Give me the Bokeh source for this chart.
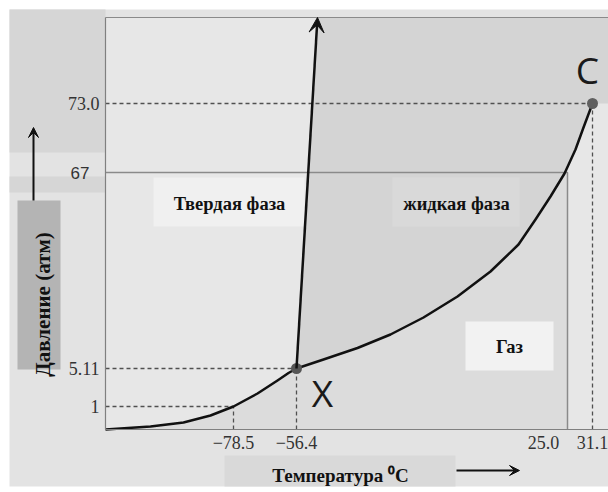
import math
from bokeh.plotting import figure
from bokeh.models import Range1d, FixedTicker, Arrow, VeeHead
from bokeh.core.properties import value
from bokeh.embed import file_html
from bokeh.resources import INLINE

# ---- data (schematic positions on a non-linear phase diagram) ----
temp_labels = ["\u221278.5", "\u221256.4", "25.0", "31.1"]
temp_pos = [128, 191, 462, 487]          # where each temperature sits on the axis
temp_label_pos = [128, 191, 438, 487]    # label placement (25.0 is nudged left in the original)
pres_labels = ["73.0", "67", "5.11", "1"]
pres_pos = [326, 257, 61, 23]

sub_x = [0, 45, 78, 105, 128, 152, 172, 183, 191]
sub_y = [0, 3, 7, 14, 23, 36, 49, 56.5, 61]
vap_x = [191, 218, 252, 285, 318, 352, 385, 413, 430, 445, 459, 470, 478, 484, 487]
vap_y = [61, 70, 81.5, 95, 112, 133, 158, 185, 210, 233, 256, 280, 302, 318, 326]
melt_x = [191, 212]
melt_y = [61, 412]

phase_names = ["Твердая фаза", "жидкая фаза", "Газ"]
point_names = ["X", "C"]
y_title = "Давление (атм)"
x_title = "Температура \u2070C"

SERIF = "Liberation Serif"
X_MAX, Y_MAX = 503, 412

p = figure(width=608, height=492, output_backend="svg", toolbar_location=None,
           x_range=Range1d(-105, X_MAX), y_range=Range1d(-63, 429),
           min_border=0, min_border_left=0, min_border_right=0,
           min_border_top=0, min_border_bottom=0)
p.background_fill_color = "white"
p.border_fill_color = "white"
p.outline_line_color = None
p.grid.visible = False

# outer grey panel and its bands
p.quad(left=[-96], right=[X_MAX], bottom=[-57], top=[420], fill_color="#e3e3e3", line_color=None)
p.quad(left=[-96, -96], right=[0, 0], bottom=[277, 237], top=[420, 253],
       fill_color="#d6d6d6", line_color=None)
# plot area
p.quad(left=[0], right=[X_MAX], bottom=[0], top=[Y_MAX], fill_color="#e7e7e7", line_color=None)

# regions
liq_x = melt_x + [X_MAX, X_MAX] + vap_x[::-1]
liq_y = melt_y + [Y_MAX, pres_pos[0]] + vap_y[::-1]
p.patch(liq_x, liq_y, fill_color="#d4d4d4", line_color=None)

gx = sub_x + [x for x in vap_x if x <= temp_pos[2]] + [temp_pos[2], temp_pos[2]]
gy = sub_y + [y for x, y in zip(vap_x, vap_y) if x <= temp_pos[2]] + [pres_pos[1], 0]
p.patch(gx, gy, fill_color="#dcdcdc", line_color=None)

# top frame line
p.line([0, X_MAX], [Y_MAX, Y_MAX], line_color="#8a8a8a", line_width=1.2)

# axes (drawn at the diagram's origin)
for ax in (p.xaxis[0], p.yaxis[0]):
    ax.fixed_location = 0
    ax.axis_line_color = "#808080"
    ax.axis_line_width = 1.2
    ax.major_tick_line_color = None
    ax.minor_tick_line_color = None
    ax.major_tick_out = 0
    ax.major_tick_in = 0
    ax.major_label_text_font = SERIF
    ax.major_label_text_font_size = "18px"
    ax.major_label_text_color = "#333333"
    ax.major_label_standoff = 6

p.xaxis.bounds = (0, X_MAX)
p.xaxis.ticker = FixedTicker(ticks=temp_label_pos)
p.xaxis.major_label_overrides = {t: l for t, l in zip(temp_label_pos, temp_labels)}

y_ticks = [pres_pos[0], pres_pos[2], pres_pos[3]]
y_labs = [pres_labels[0], pres_labels[2], pres_labels[3]]
p.yaxis.bounds = (0, Y_MAX)
p.yaxis.ticker = FixedTicker(ticks=y_ticks)
p.yaxis.major_label_overrides = {t: l for t, l in zip(y_ticks, y_labs)}

# "67" is typeset in a sans face further from the axis in the original
p.text(x=[-16], y=[pres_pos[1]], text=[pres_labels[1]], text_align="right",
       text_baseline="middle", text_font=value("Liberation Sans"),
       text_font_size="17px", text_color="#333333")

# 67 atm / 25 C solid guide
p.line([0, temp_pos[2], temp_pos[2]], [pres_pos[1], pres_pos[1], 0],
       line_color="#8a8a8a", line_width=1.5)

# dashed guides
pts_x = [temp_pos[3], temp_pos[1], temp_pos[0]]
pts_y = [pres_pos[0], pres_pos[2], pres_pos[3]]
p.segment(x0=[0] * 3, y0=pts_y, x1=pts_x, y1=pts_y,
          line_color="#505050", line_width=1.3, line_dash="4 3")
p.segment(x0=pts_x, y0=[0] * 3, x1=pts_x, y1=pts_y,
          line_color="#505050", line_width=1.3, line_dash="4 3")

# phase boundaries
p.line(sub_x, sub_y, line_color="#111111", line_width=2.5, line_join="round")
p.line(vap_x, vap_y, line_color="#111111", line_width=2.5, line_join="round")
p.add_layout(Arrow(end=VeeHead(size=15, fill_color="#111111", line_color="#111111"),
                   x_start=melt_x[0], y_start=melt_y[0], x_end=melt_x[1], y_end=melt_y[1],
                   line_color="#111111", line_width=2.5))

# triple & critical points
p.scatter([temp_pos[1], temp_pos[3]], [pres_pos[2], pres_pos[0]], size=11,
          fill_color=["#555555", "#606060"], line_color=None)

# phase label boxes
p.quad(left=[48, 287, 360], right=[199, 414, 448], bottom=[203, 203, 59], top=[252, 252, 108],
       fill_color=["#f0f0f0", "#d9d9d9", "#f2f2f2"], line_color=None)
p.text(x=[124, 351, 404], y=[226, 226, 83], text=phase_names,
       text_align="center", text_baseline="middle", text_font=value(SERIF),
       text_font_style="bold", text_font_size="18.5px", text_color="#111111")

p.text(x=[217, 482], y=[37, 360], text=point_names, text_align="center", text_baseline="middle",
       text_font=value("Open Sans"), text_font_size="37px", text_color="#1a1a1a")

# axis titles in grey boxes with arrows
p.quad(left=[-88], right=[-45], bottom=[60], top=[229], fill_color="#b4b4b4", line_color=None)
p.text(x=[-63], y=[125], text=[y_title], angle=math.pi / 2,
       text_align="center", text_baseline="middle", text_font=value(SERIF),
       text_font_style="bold", text_font_size="21px", text_color="#111111")
p.add_layout(Arrow(end=VeeHead(size=10, fill_color="#111111", line_color="#111111"),
                   x_start=-72, y_start=229, x_end=-72, y_end=302,
                   line_color="#111111", line_width=2))

p.quad(left=[119], right=[350], bottom=[-57], top=[-26], fill_color="#d9d9d9", line_color=None)
p.text(x=[235], y=[-46], text=[x_title],
       text_align="center", text_baseline="middle", text_font=value(SERIF),
       text_font_style="bold", text_font_size="19px", text_color="#111111")
p.add_layout(Arrow(end=VeeHead(size=10, fill_color="#111111", line_color="#111111"),
                   x_start=351, y_start=-41, x_end=414, y_end=-41,
                   line_color="#111111", line_width=2))

open("out.html", "w").write(file_html(p, INLINE))
